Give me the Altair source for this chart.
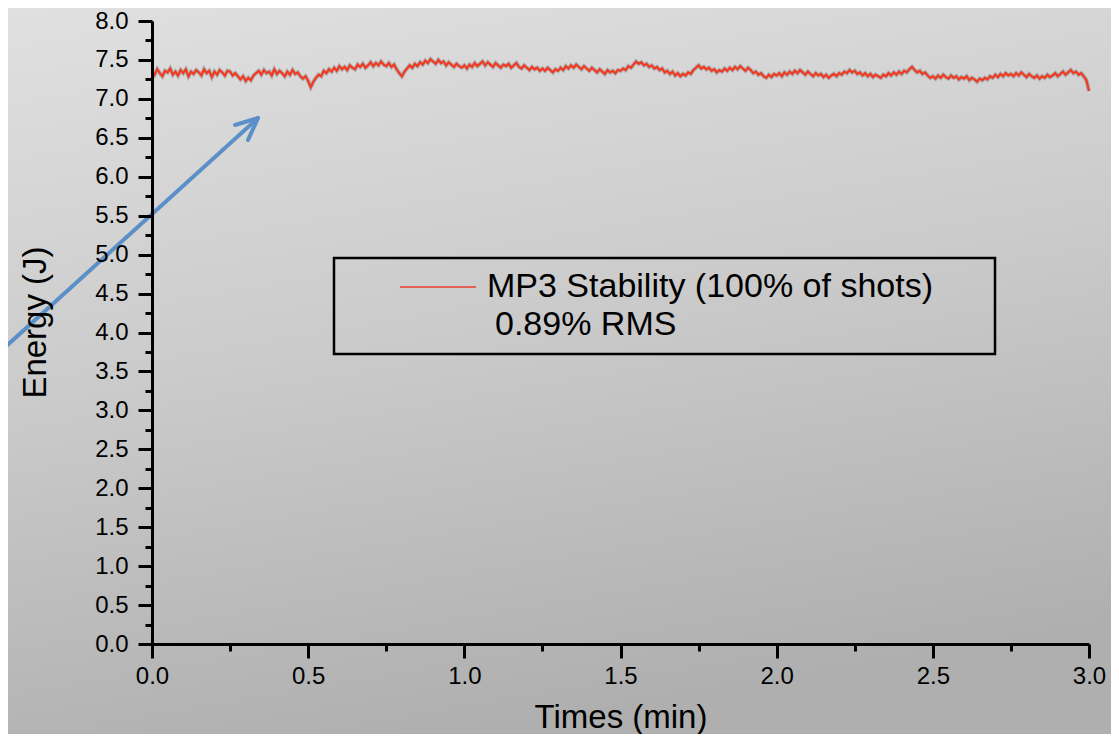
import altair as alt
import pandas as pd

# Energy (J) readings every 1/120 min (0.5 s)
energy = [
    7.36, 7.31, 7.38, 7.33, 7.29, 7.36, 7.34, 7.39, 7.31, 7.35, 7.30, 7.37, 7.33, 7.38, 7.29,
    7.35, 7.32, 7.37, 7.34, 7.30, 7.38, 7.33, 7.36, 7.28, 7.35, 7.31, 7.37, 7.34, 7.30, 7.36,
    7.35, 7.30, 7.33, 7.29, 7.25, 7.29, 7.23, 7.27, 7.24, 7.30, 7.33, 7.36, 7.31, 7.37, 7.33,
    7.35, 7.30, 7.38, 7.32, 7.36, 7.33, 7.29, 7.35, 7.31, 7.37, 7.32, 7.34, 7.29, 7.26, 7.29,
    7.23, 7.15, 7.22, 7.27, 7.31, 7.29, 7.36, 7.33, 7.38, 7.35, 7.40, 7.36, 7.42, 7.38, 7.41,
    7.37, 7.43, 7.40, 7.38, 7.44, 7.41, 7.45, 7.40, 7.43, 7.47, 7.42, 7.46, 7.43, 7.48, 7.44,
    7.42, 7.46, 7.41, 7.44, 7.38, 7.33, 7.29, 7.35, 7.39, 7.43, 7.40, 7.45, 7.42, 7.47, 7.44,
    7.49, 7.46, 7.51, 7.48, 7.45, 7.50, 7.46, 7.48, 7.43, 7.47, 7.44, 7.41, 7.45, 7.42, 7.40,
    7.43, 7.39, 7.44, 7.41, 7.46, 7.42, 7.45, 7.48, 7.43, 7.47, 7.44, 7.41, 7.46, 7.43, 7.40,
    7.44, 7.42, 7.45, 7.40, 7.43, 7.46, 7.41, 7.39, 7.43, 7.40, 7.37, 7.41, 7.38, 7.40, 7.36,
    7.39, 7.36, 7.40, 7.37, 7.34, 7.38, 7.36, 7.40, 7.37, 7.42, 7.39, 7.43, 7.40, 7.44, 7.41,
    7.38, 7.42, 7.39, 7.36, 7.40, 7.37, 7.34, 7.38, 7.35, 7.32, 7.37, 7.34, 7.36, 7.33, 7.37,
    7.36, 7.39, 7.37, 7.42, 7.40, 7.44, 7.48, 7.45, 7.47, 7.43, 7.45, 7.41, 7.43, 7.39, 7.41,
    7.37, 7.39, 7.34, 7.36, 7.32, 7.35, 7.30, 7.33, 7.29, 7.32, 7.30, 7.34, 7.32, 7.37, 7.40,
    7.43, 7.39, 7.41, 7.38, 7.40, 7.36, 7.38, 7.34, 7.37, 7.35, 7.39, 7.36, 7.40, 7.37, 7.41,
    7.38, 7.42, 7.39, 7.36, 7.40, 7.37, 7.33, 7.35, 7.31, 7.33, 7.29, 7.27, 7.31, 7.28, 7.32,
    7.30, 7.33, 7.29, 7.34, 7.31, 7.35, 7.32, 7.36, 7.33, 7.37, 7.34, 7.31, 7.35, 7.32, 7.29,
    7.33, 7.30, 7.32, 7.28, 7.31, 7.27, 7.30, 7.32, 7.29, 7.33, 7.31, 7.35, 7.33, 7.37, 7.34,
    7.36, 7.32, 7.34, 7.30, 7.33, 7.29, 7.32, 7.28, 7.31, 7.29, 7.27, 7.31, 7.29, 7.33, 7.30,
    7.34, 7.31, 7.35, 7.32, 7.36, 7.34, 7.38, 7.41, 7.37, 7.34, 7.36, 7.32, 7.34, 7.30, 7.27,
    7.29, 7.26, 7.30, 7.27, 7.31, 7.28, 7.26, 7.30, 7.27, 7.29, 7.25, 7.28, 7.26, 7.29, 7.24,
    7.27, 7.25, 7.22, 7.26, 7.24, 7.27, 7.25, 7.29, 7.27, 7.31, 7.28, 7.32, 7.29, 7.33, 7.30,
    7.32, 7.29, 7.33, 7.30, 7.34, 7.31, 7.28, 7.32, 7.29, 7.27, 7.30, 7.26, 7.29, 7.27, 7.31,
    7.28, 7.30, 7.33, 7.29, 7.32, 7.35, 7.31, 7.34, 7.37, 7.33, 7.35, 7.31, 7.33, 7.29, 7.24,
    7.10,
]
times = [round(i / 120, 5) for i in range(len(energy))]

x_tick_values = [0.0, 0.25, 0.5, 0.75, 1.0, 1.25, 1.5, 1.75, 2.0, 2.25, 2.5, 2.75, 3.0]
y_tick_values = [0.0, 0.25, 0.5, 0.75, 1.0, 1.25, 1.5, 1.75, 2.0, 2.25, 2.5, 2.75, 3.0, 3.25,
                 3.5, 3.75, 4.0, 4.25, 4.5, 4.75, 5.0, 5.25, 5.5, 5.75, 6.0, 6.25, 6.5, 6.75,
                 7.0, 7.25, 7.5, 7.75, 8.0]

legend_label = "MP3 Stability (100% of shots)"
legend_note = "0.89% RMS"
x_title = "Times (min)"
y_title = "Energy (J)"

W, H = 937, 623
FONT = "Liberation Sans"

df = pd.DataFrame({"t": times, "e": energy})
one = pd.DataFrame({"k": [0]})

major_test = "datum.value % 0.5 === 0"
lab_expr = "datum.value % 0.5 === 0 ? format(datum.value, '.1f') : ''"

x_axis = alt.Axis(
    values=x_tick_values, labelExpr=lab_expr, title=x_title, grid=False,
    domainColor="black", domainWidth=3, tickColor="black", tickWidth=3,
    tickSize={"condition": {"test": major_test, "value": 14}, "value": 7},
    labelFont=FONT, labelFontSize=24, labelColor="black", labelPadding=6,
    labelFlush=False, labelOverlap=False, labelBound=False,
    titleFont=FONT, titleFontSize=33, titleFontWeight="normal", titleColor="black",
    titleX=W / 2, titleY=73, titleBaseline="middle", titleAlign="center", zindex=2,
)
y_axis = alt.Axis(
    values=y_tick_values, labelExpr=lab_expr, title=y_title, grid=False,
    domainColor="black", domainWidth=3, tickColor="black", tickWidth=3,
    tickSize={"condition": {"test": major_test, "value": 14}, "value": 7},
    labelFont=FONT, labelFontSize=24, labelColor="black", labelPadding=10,
    labelFlush=False, labelOverlap=False, labelBound=False,
    titleFont=FONT, titleFontSize=33, titleFontWeight="normal", titleColor="black",
    titleX=-117, titleY=301, titleAngle=-90, titleBaseline="middle", titleAlign="center", zindex=2,
)

xs = alt.Scale(domain=[0, 3], nice=False, zero=False)
ys = alt.Scale(domain=[0, 8], nice=False, zero=False)

bg = alt.Chart(one).mark_rect(
    color=alt.LinearGradient(
        gradient="linear", x1=0, y1=0, x2=0.25, y2=1,
        stops=[alt.GradientStop(color="#e1e1e1", offset=0),
               alt.GradientStop(color="#cbcbcb", offset=0.5),
               alt.GradientStop(color="#afafaf", offset=1)],
    )
).encode(x=alt.value(-160), x2=alt.value(W + 40), y=alt.value(-30), y2=alt.value(H + 120))

halo = alt.Chart(df).mark_line(color="#8a8a8a", strokeWidth=4.2, opacity=0.5).encode(
    x=alt.X("t:Q", scale=xs, axis=x_axis),
    y=alt.Y("e:Q", scale=ys, axis=y_axis),
)
line = alt.Chart(df).mark_line(color="#f23a22", strokeWidth=2.2).encode(
    x=alt.X("t:Q", scale=xs, axis=x_axis),
    y=alt.Y("e:Q", scale=ys, axis=y_axis),
)

legend_box = alt.Chart(one).mark_rect(fill=None, stroke="black", strokeWidth=2.5).encode(
    x=alt.value(182), x2=alt.value(843), y=alt.value(237), y2=alt.value(333)
)
legend_swatch = alt.Chart(one).mark_rule(color="#e8402c", strokeWidth=1.5).encode(
    x=alt.value(248), x2=alt.value(324), y=alt.value(266)
)
legend_text1 = alt.Chart(one).mark_text(
    text=legend_label, font=FONT, fontSize=34, color="black", align="left", baseline="middle"
).encode(x=alt.value(335), y=alt.value(266))
legend_text2 = alt.Chart(one).mark_text(
    text=legend_note, font=FONT, fontSize=34, color="black", align="left", baseline="middle"
).encode(x=alt.value(343), y=alt.value(304))

ARROW = "#5b8fc8"
arrow_shaft = alt.Chart(one).mark_rule(color=ARROW, strokeWidth=4, strokeCap="round").encode(
    x=alt.value(-150), y=alt.value(329), x2=alt.value(105), y2=alt.value(98)
)
arrow_arm1 = alt.Chart(one).mark_rule(color=ARROW, strokeWidth=4, strokeCap="round").encode(
    x=alt.value(83), y=alt.value(104), x2=alt.value(106), y2=alt.value(97)
)
arrow_arm2 = alt.Chart(one).mark_rule(color=ARROW, strokeWidth=4, strokeCap="round").encode(
    x=alt.value(96), y=alt.value(119), x2=alt.value(106), y2=alt.value(97)
)

chart = alt.layer(
    bg, halo, line, legend_box, legend_swatch, legend_text1, legend_text2,
    arrow_shaft, arrow_arm1, arrow_arm2,
).properties(
    width=W, height=H,
    autosize=alt.AutoSizeParams(type="none"),
    padding={"left": 144, "top": 13, "right": 22, "bottom": 90},
    background="#c8c8c8",
).configure_view(stroke=None).configure_axis(labelOverlap=False)

chart.save("out.html", embed_options={"renderer": "svg", "actions": False})
